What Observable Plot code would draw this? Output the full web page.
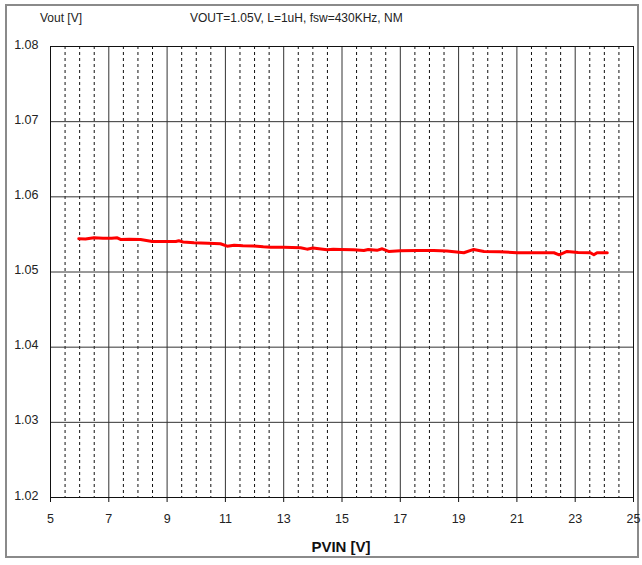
<!DOCTYPE html>
<html>
<head>
<meta charset="utf-8">
<script src="https://cdn.jsdelivr.net/npm/d3@7"></script>
<script src="https://cdn.jsdelivr.net/npm/@observablehq/plot@0.6"></script>
<style>
  html, body { margin: 0; padding: 0; background: #fff; }
  #wrap { position: relative; width: 642px; height: 565px; font-family: "Liberation Sans", Arial, sans-serif; }
  #border { position: absolute; left: 5px; top: 4px; width: 630px; height: 550px; border: 2px solid #8a8a8a; pointer-events: none; }
  .t { position: absolute; font-size: 12px; color: #222; white-space: nowrap; }
  #ylab { left: 40px; top: 11px; }
  #title { left: 190px; top: 11px; }
  #xlab { left: 0; width: 682px; text-align: center; top: 538px; font-size: 15px; font-weight: bold; color: #111; }
  svg { position: absolute; left: 0; top: 0; }
</style>
</head>
<body>
<div id="wrap">
  <div class="t" id="ylab">Vout [V]</div>
  <div class="t" id="title">VOUT=1.05V, L=1uH, fsw=430KHz, NM</div>
  <div class="t" id="xlab">PVIN [V]</div>
  <div id="border"></div>
</div>
<script>
// Data
const pvin = [5.97, 6.2, 6.49, 6.8, 7.1, 7.29, 7.4, 7.7, 8.09, 8.49, 8.9, 9.3, 9.4, 9.55, 9.92, 10.4, 10.83, 11.06, 11.3, 11.6, 11.97, 12.3, 12.55, 13.0, 13.58, 13.8, 14.0, 14.49, 14.7, 14.95, 15.4, 15.75, 15.9, 16.2, 16.38, 16.6, 17.0, 17.58, 18.14, 18.6, 19.18, 19.52, 19.87, 20.4, 21.0, 21.6, 22.27, 22.45, 22.72, 23.1, 23.52, 23.64, 23.75, 24.1];
const vout = [1.05442, 1.05440, 1.05455, 1.05448, 1.05450, 1.05455, 1.05433, 1.05435, 1.05433, 1.05406, 1.05406, 1.05406, 1.05415, 1.05400, 1.05389, 1.05382, 1.05376, 1.05344, 1.05357, 1.05350, 1.05345, 1.05335, 1.05330, 1.05328, 1.05322, 1.05304, 1.05318, 1.05296, 1.05304, 1.05300, 1.05295, 1.05286, 1.05300, 1.05288, 1.05309, 1.05273, 1.05282, 1.05286, 1.05286, 1.05280, 1.05256, 1.05300, 1.05273, 1.05270, 1.05256, 1.05256, 1.05256, 1.05229, 1.05273, 1.05260, 1.05256, 1.05229, 1.05256, 1.05256];
const xMajor = [5, 7, 9, 11, 13, 15, 17, 19, 21, 23, 25];
const xMinor = d3.range(5.5, 25, 0.5).filter(v => Math.abs((v - 5) % 2) > 1e-9);
const yTicks = [1.02, 1.03, 1.04, 1.05, 1.06, 1.07, 1.08];

const data = pvin.map((x, i) => ({x, y: vout[i]}));

const chart = Plot.plot({
  width: 642,
  height: 565,
  marginLeft: 50,
  marginRight: 9,
  marginTop: 46,
  marginBottom: 68,
  style: { fontFamily: "'Liberation Sans', Arial, sans-serif", fontSize: "12px", color: "#222", background: "transparent" },
  x: { domain: [5, 25], ticks: xMajor, label: null },
  y: { domain: [1.02, 1.08], ticks: yTicks, label: null, tickFormat: d3.format(".2f") },
  marks: [
    Plot.ruleX(xMinor, { stroke: "#111", strokeWidth: 1, strokeDasharray: "3,3" }),
    Plot.ruleX(xMajor, { stroke: "#333", strokeWidth: 1 }),
    Plot.ruleY(yTicks, { stroke: "#333", strokeWidth: 1 }),
    Plot.axisX({ ticks: xMajor, tickSize: 5, tickPadding: 12, fontSize: 12.5, label: null, stroke: "#111" }),
    Plot.axisY({ ticks: yTicks, tickSize: 0, tickPadding: 12, fontSize: 12.5, label: null, tickFormat: d3.format(".2f"), dy: -2 }),
    Plot.frame({ stroke: "#111", strokeWidth: 1 }),
    Plot.line(data, { x: "x", y: "y", stroke: "#ff0000", strokeWidth: 3 })
  ]
});
document.getElementById("wrap").appendChild(chart);
</script>
</body>
</html>
